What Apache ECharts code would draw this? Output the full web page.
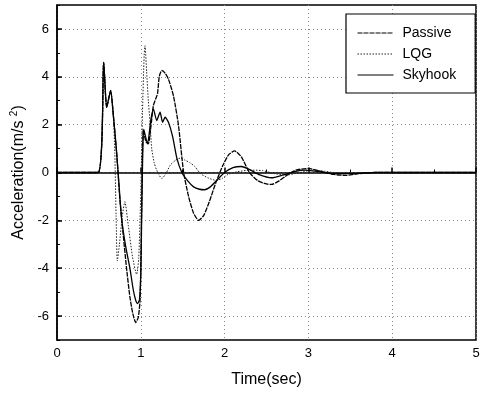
<!DOCTYPE html>
<html>
<head>
<meta charset="utf-8">
<script src="https://cdn.jsdelivr.net/npm/echarts@6.0.0/dist/echarts.min.js"></script>
<style>
html, body { margin: 0; padding: 0; background: #fff; }
#chart { width: 488px; height: 393px; }
</style>
</head>
<body>
<div id="chart"></div>
<script>
// time (sec) / acceleration (m/s^2)
const passiveT = [0, 0.49, 0.557, 0.593, 0.64, 0.672, 0.71, 0.75, 0.79, 0.83,
  0.87, 0.905, 0.94, 0.97, 0.99, 1.0, 1.01, 1.03, 1.06, 1.09,
  1.12, 1.15, 1.18, 1.2, 1.22, 1.25, 1.29, 1.33, 1.39, 1.45,
  1.51, 1.57, 1.63, 1.69, 1.75, 1.82, 1.9, 1.98, 2.05, 2.12,
  2.2, 2.3, 2.4, 2.5, 2.56, 2.65, 2.75, 2.85, 3.0, 3.15,
  3.3, 3.45, 3.6, 3.8, 4.2, 5];
const passiveA = [0, 0, 4.6, 2.72, 3.42, 2.4, 0.9, -1.1, -2.6, -4.0,
  -5.2, -5.9, -6.27, -6.05, -5.4, -4.0, -1.5, 1.8, 1.3, 1.2,
  1.9, 2.8, 3.1, 3.3, 4.0, 4.27, 4.15, 3.9, 3.2, 1.96,
  0.03, -1.0, -1.7, -2.0, -1.8, -1.2, -0.38, 0.3, 0.75, 0.9,
  0.65, -0.02, -0.35, -0.48, -0.5, -0.35, -0.1, 0.1, 0.17, 0.05,
  -0.08, -0.12, -0.05, 0, 0, 0];

const lqgT = [0, 0.49, 0.557, 0.593, 0.64, 0.672, 0.69, 0.705, 0.72, 0.745,
  0.78, 0.81, 0.85, 0.9, 0.95, 0.975, 1.0, 1.02, 1.04, 1.05,
  1.07, 1.09, 1.11, 1.13, 1.16, 1.19, 1.25, 1.3, 1.35, 1.41,
  1.47, 1.53, 1.59, 1.65, 1.71, 1.8, 1.9, 1.97, 2.04, 2.15,
  2.3, 2.45, 2.6, 2.75, 2.9, 3.05, 3.2, 3.4, 3.6, 3.8, 5];
const lqgA = [0, 0, 4.6, 2.72, 3.42, 2.4, 0.8, -1.8, -3.7, -3.0,
  -1.8, -1.22, -2.2, -3.5, -4.26, -3.6, -0.8, 2.5, 4.9, 5.3,
  4.2, 3.0, 2.1, 1.0, 0.4, 0.1, -0.25, -0.05, 0.3, 0.5,
  0.6, 0.51, 0.4, 0.23, -0.04, -0.22, -0.33, -0.25, -0.08, 0.03,
  0.1, 0.08, -0.05, -0.1, 0.0, 0.1, 0.05, -0.05, -0.03, 0, 0];

const skyT = [0, 0.49, 0.557, 0.593, 0.64, 0.672, 0.71, 0.74, 0.77, 0.82,
  0.87, 0.91, 0.94, 0.96, 0.985, 1.0, 1.01, 1.02, 1.035, 1.08,
  1.12, 1.15, 1.19, 1.23, 1.26, 1.29, 1.33, 1.38, 1.43, 1.49,
  1.56, 1.63, 1.7, 1.76, 1.83, 1.9, 2.0, 2.1, 2.2, 2.3,
  2.42, 2.56, 2.7, 2.85, 2.95, 3.1, 3.3, 3.5, 3.8, 5];
const skyA = [0, 0, 4.6, 2.72, 3.42, 2.4, 0.9, -0.5, -1.9, -3.1,
  -4.0, -4.9, -5.35, -5.48, -5.3, -4.2, -2.0, 0.2, 1.8, 1.2,
  2.2, 2.66, 2.17, 2.52, 2.1, 2.31, 2.1, 1.5, 0.6, 0.0,
  -0.35, -0.6, -0.7, -0.72, -0.6, -0.35, 0.0, 0.2, 0.25, 0.12,
  -0.1, -0.22, -0.1, 0.05, 0.1, 0.05, -0.05, -0.05, 0, 0];

const yTicks = [-6, -4, -2, 0, 2, 4, 6];

function pairs(t, a) {
  return t.map((v, i) => [v, a[i]]);
}

const font = '"Liberation Sans", Arial, sans-serif';
const chart = echarts.init(document.getElementById('chart'));

chart.setOption({
  animation: false,
  grid: {
    left: 57, right: 12, top: 5, bottom: 52,
    show: true, borderColor: '#000', borderWidth: 1.5
  },
  legend: {
    orient: 'vertical',
    left: 346,
    top: 14,
    padding: [12, 19, 11, 11],
    itemWidth: 36,
    itemHeight: 14,
    itemGap: 7,
    borderColor: '#000',
    borderWidth: 1.2,
    backgroundColor: '#fff',
    itemStyle: { opacity: 0 },
    lineStyle: { width: 1 },
    textStyle: { fontFamily: font, fontSize: 14, color: '#000', padding: [0, 0, 0, 4] },
    data: ['Passive', 'LQG', 'Skyhook']
  },
  xAxis: {
    type: 'value',
    min: 0,
    max: 5,
    interval: 1,
    name: 'Time(sec)',
    nameLocation: 'middle',
    nameGap: 32,
    nameTextStyle: { fontFamily: font, fontSize: 16, color: '#000' },
    axisLine: { lineStyle: { color: '#000', width: 1.5 } },
    axisTick: { inside: true, length: 5, lineStyle: { color: '#000', width: 1.5 } },
    minorTick: { show: true, splitNumber: 2, length: 3, lineStyle: { color: '#000', width: 1 } },
    axisLabel: { fontFamily: font, fontSize: 13, color: '#000', margin: 7 },
    splitLine: { show: true, lineStyle: { color: '#888', width: 1, type: [1, 3] } }
  },
  yAxis: [{
    type: 'value',
    position: 'left',
    min: -7,
    max: 7,
    interval: 1,
    name: 'Acceleration(m/s {sup|2})',
    nameLocation: 'middle',
    nameGap: 29,
    nameTextStyle: {
      fontFamily: font, fontSize: 16, color: '#000',
      rich: { sup: { fontFamily: font, fontSize: 10, color: '#000', verticalAlign: 'top', padding: [0, 0, 8, 0] } }
    },
    axisLine: { lineStyle: { color: '#000', width: 1.5 } },
    axisTick: { inside: true, length: 5, customValues: yTicks, lineStyle: { color: '#000', width: 1.5 } },
    axisLabel: { fontFamily: font, fontSize: 13, color: '#000', margin: 8, customValues: yTicks },
    splitLine: { show: true, lineStyle: { color: '#888', width: 1, type: [1, 3] } }
  }, {
    // short ticks at the odd values
    type: 'value',
    position: 'left',
    min: -7,
    max: 7,
    interval: 1,
    axisLine: { show: false },
    axisTick: { inside: true, length: 3, lineStyle: { color: '#000', width: 1 } },
    axisLabel: { show: false },
    splitLine: { show: false }
  }],
  series: [{
    name: 'Passive',
    type: 'line',
    data: pairs(passiveT, passiveA),
    symbol: 'none',
    smooth: 0.2,
    itemStyle: { color: '#000' },
    lineStyle: { color: '#000', width: 1.3, type: [5, 1] }
  }, {
    name: 'LQG',
    type: 'line',
    data: pairs(lqgT, lqgA),
    symbol: 'none',
    smooth: 0.2,
    itemStyle: { color: '#000' },
    lineStyle: { color: '#222', width: 1, type: [1.5, 1.5] }
  }, {
    name: 'Skyhook',
    type: 'line',
    data: pairs(skyT, skyA),
    symbol: 'none',
    smooth: 0.2,
    itemStyle: { color: '#000' },
    lineStyle: { color: '#000', width: 1.3, type: 'solid' }
  }]
});
</script>
</body>
</html>
